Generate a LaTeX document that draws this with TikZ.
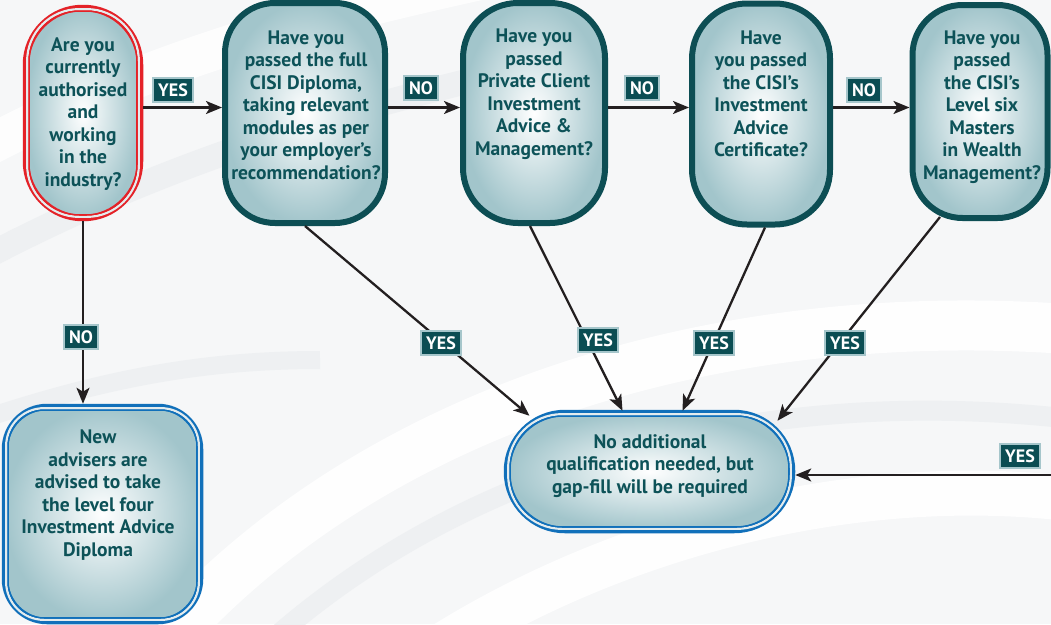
\documentclass[tikz,border=0pt]{standalone}
\usepackage{fontspec}
\setmainfont{PT Sans}
\usetikzlibrary{arrows.meta,calc}
\definecolor{txtc}{HTML}{0D5258}
\definecolor{boxteal}{HTML}{0D4E54}
\definecolor{fillout}{HTML}{A2C5CB}
\definecolor{redb}{HTML}{E42228}
\definecolor{blueb}{HTML}{1170BA}
\definecolor{labf}{HTML}{0B4D53}
\definecolor{labb}{HTML}{A6C6CB}
\definecolor{arrc}{HTML}{231F20}
\definecolor{gapc}{HTML}{E4ECEE}
\definecolor{bgc}{HTML}{F6F7F8}
\definecolor{swc}{HTML}{EEF0F2}
\begin{document}
\begin{tikzpicture}[x=1pt,y=-1pt,
  qbox/.style={draw=boxteal, line width=6, inner color=white, outer color=fillout, rectangle, inner sep=0},
  pillbox/.style={line width=6.5, inner color=white, outer color=fillout, rectangle, inner sep=0},
  qtext/.style={text=txtc, font=\bfseries\fontsize{19.5}{22.5}\selectfont, align=center, inner sep=0},
  lbl/.style={fill=labf, draw=labb, line width=2.5, text=white, font=\bfseries\fontsize{18}{18}\selectfont, inner xsep=5, inner ysep=0, minimum height=24},
  arr/.style={draw=arrc, line width=2.3, -{Stealth[length=16,width=13,inset=4]}},
  gapline/.style={draw=gapc, line width=2.2},
  thinline/.style={line width=1.3}]
\useasboundingbox (0,0) rectangle (1051,624);
\clip (0,0) rectangle (1051,624);
% background
\fill[bgc] (0,0) rectangle (1051,624);
\draw[white, line width=40, opacity=0.8] (-20,150) .. controls (150,60) and (300,20) .. (480,-20);
\draw[swc, line width=25] (-20,260) .. controls (150,170) and (330,110) .. (560,60);
\draw[white, line width=50, opacity=0.9] (150,660) .. controls (350,420) and (700,300) .. (1080,330);
\draw[swc, line width=20] (250,660) .. controls (450,470) and (750,380) .. (1080,420);
\draw[white, line width=45, opacity=0.9] (420,660) .. controls (600,540) and (850,470) .. (1080,500);
\draw[swc, line width=18] (-20,420) .. controls (100,380) and (200,360) .. (320,360);

% boxes
\node[pillbox, draw=redb, minimum width=114, minimum height=210, rounded corners=56.5] (A) at (83,113) {};
\draw[gapline, rounded corners=52] ($(A.north west)+(4.4,4.4)$) rectangle ($(A.south east)+(-4.4,-4.4)$);
\draw[redb, thinline, rounded corners=50] ($(A.north west)+(6.4,6.4)$) rectangle ($(A.south east)+(-6.4,-6.4)$);

\node[qbox, minimum width=160, minimum height=220, rounded corners=50] (B) at (305,113) {};
\node[qbox, minimum width=142, minimum height=220, rounded corners=55] (C) at (534,113) {};
\node[qbox, minimum width=138, minimum height=221, rounded corners=55] (D) at (761,114) {};
\node[qbox, minimum width=135, minimum height=213, rounded corners=50] (E) at (980,111.5) {};

\node[pillbox, draw=blueb, minimum width=195, minimum height=214, rounded corners=42] (F) at (102.5,514) {};
\draw[gapline, rounded corners=38] ($(F.north west)+(4.4,4.4)$) rectangle ($(F.south east)+(-4.4,-4.4)$);
\draw[blueb, thinline, rounded corners=36] ($(F.north west)+(6.4,6.4)$) rectangle ($(F.south east)+(-6.4,-6.4)$);

\node[pillbox, draw=blueb, minimum width=285, minimum height=117, rounded corners=58] (G) at (649.5,471.5) {};
\draw[gapline, rounded corners=54] ($(G.north west)+(4.4,4.4)$) rectangle ($(G.south east)+(-4.4,-4.4)$);
\draw[blueb, thinline, rounded corners=52] ($(G.north west)+(6.4,6.4)$) rectangle ($(G.south east)+(-6.4,-6.4)$);

% texts
\node[qtext] (At) at (83,114) {Are you\\currently\\authorised\\and\\working\\in the\\industry?};
\node[qtext] (Bt) at (306,105) {Have you\\passed the full\\CISI Diploma,\\taking relevant\\modules as per\\your employer’s\\recommendation?};
\node[qtext] (Ct) at (534,94) {Have you\\passed\\Private Client\\Investment\\Advice \&\\Management?};
\node[qtext] (Dt) at (761,94) {Have\\you passed\\the CISI’s\\Investment\\Advice\\Certificate?};
\node[qtext] (Et) at (982,107) {Have you\\passed\\the CISI’s\\Level six\\Masters\\in Wealth\\Management?};
\node[qtext] (Ft) at (98,495) {New\\advisers are\\advised to take\\the level four\\Investment Advice\\Diploma};
\node[qtext] (Gt) at (650,466) {No additional\\qualification needed, but\\gap-fill will be required};

% connectors
\coordinate (row) at (0,107.5);
\coordinate (R) at (1051,475);
\draw[arr] (A.east |- row) -- (B.west |- row);
\draw[arr] (B.east |- row) -- (C.west |- row);
\draw[arr] (C.east |- row) -- (D.west |- row);
\draw[arr] (D.east |- row) -- (E.west |- row);
\draw[arr] (A.south) -- (A.south |- F.north);
\draw[arr] (B.south) -- ($(G.north)+(-120,6)$);
\draw[arr] ($(C.south)+(-4,0)$) -- ($(G.north)+(-27,1)$);
\draw[arr] ($(D.south)+(4,0)$) -- ($(G.north)+(33,1)$);
\draw[arr] ($(E.south)+(-40,-4)$) -- ($(G.north)+(128,11)$);
\draw[arr] (R) -- (R -| G.east);

% labels
\node[lbl] (l1) at (173,90) {YES};
\node[lbl] (l2) at (421,88) {NO};
\node[lbl] (l3) at (642,88) {NO};
\node[lbl] (l4) at (864,90) {NO};
\node[lbl] (l5) at (81,337) {NO};
\node[lbl] (l6) at (441,343) {YES};
\node[lbl] (l7) at (598,340) {YES};
\node[lbl] (l8) at (714,343) {YES};
\node[lbl] (l9) at (845,343) {YES};
\node[lbl] (l10) at (1020,456) {YES};
\end{tikzpicture}
\end{document}
